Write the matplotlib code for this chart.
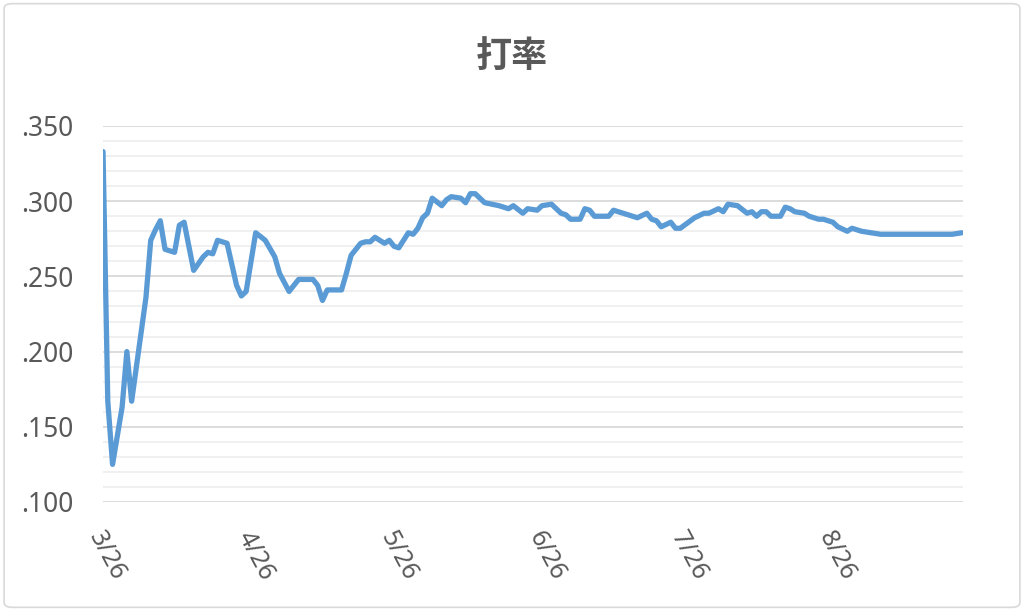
"""Batting average over the season (打率) - line chart."""

import matplotlib
matplotlib.use('Agg')
import matplotlib.pyplot as plt
import matplotlib.transforms as mtransforms
from matplotlib.patches import FancyBboxPatch
from matplotlib.ticker import MultipleLocator, FuncFormatter
import pandas as pd

# Data: day offset from 3/26 and batting average
season_start = '2021-03-26'
day_offsets = [0, 1, 2, 4, 5, 6, 9, 10, 11, 12, 13, 15, 16, 17, 19, 21, 22, 23,
               24, 26, 28, 29, 30, 32, 34, 36, 37, 39, 41, 44, 45, 46, 47, 50,
               51, 52, 54, 55, 56, 57, 59, 60, 61, 62, 64, 65, 66, 67, 68, 69,
               71, 72, 73, 75, 76, 77, 78, 80, 83, 85, 86, 88, 89, 91, 92, 94,
               96, 97, 98, 100, 101, 102, 103, 106, 107, 109, 112, 114, 115,
               116, 117, 119, 120, 121, 124, 126, 127, 129, 130, 131, 133, 135,
               136, 137, 138, 139, 140, 142, 143, 144, 145, 147, 148, 150, 151,
               153, 154, 156, 157, 159, 163, 178, 180]
batting_avg = [.333, .167, .125, .163, .200, .167, .236, .274, .281, .287, .268,
               .266, .284, .286, .254, .263, .266, .265, .274, .272, .244, .237,
               .240, .279, .274, .263, .252, .240, .248, .248, .244, .234, .241,
               .241, .252, .264, .272, .273, .273, .276, .272, .274, .270, .269,
               .279, .278, .282, .289, .292, .302, .297, .301, .303, .302, .299,
               .305, .305, .299, .297, .295, .297, .292, .295, .294, .297, .298,
               .292, .291, .288, .288, .295, .294, .290, .290, .294, .292, .289,
               .292, .288, .287, .283, .286, .282, .282, .289, .292, .292, .295,
               .293, .298, .297, .292, .293, .290, .293, .293, .290, .290, .296,
               .295, .293, .292, .290, .288, .288, .286, .283, .280, .282, .280,
               .278, .278, .279]
tick_labels = ['3/26', '4/26', '5/26', '6/26', '7/26', '8/26']

dates = pd.Timestamp(season_start) + pd.to_timedelta(day_offsets, unit='D')
tick_dates = [pd.Timestamp('2021-%02d-26' % int(t.split('/')[0])) for t in tick_labels]

TEXT_COLOR = '#595959'
LINE_COLOR = '#5B9BD5'

fig = plt.figure(figsize=(10.24, 6.11), dpi=100)
ax = fig.add_axes([0.1006, 0.1784, 0.8398, 0.6154])

# Chart area border
fig.patches.append(FancyBboxPatch((0.004, 0.006), 0.992, 0.988,
                                  boxstyle='round,pad=0,rounding_size=0.008',
                                  transform=fig.transFigure, fill=False,
                                  edgecolor='#d9d9d9', linewidth=1.2))

ax.plot(dates, batting_avg, color=LINE_COLOR, linewidth=3.8,
        solid_joinstyle='round', solid_capstyle='round', zorder=3)

ax.set_ylim(0.100, 0.350)
ax.set_xlim(dates[0], dates[-1] + pd.Timedelta(hours=6))

ax.yaxis.set_major_locator(MultipleLocator(0.05))
ax.yaxis.set_minor_locator(MultipleLocator(0.01))
ax.yaxis.set_major_formatter(FuncFormatter(lambda v, p: ('%.3f' % v)[1:]))
ax.grid(which='major', axis='y', color='#d9d9d9', linewidth=1.3, zorder=1)
ax.grid(which='minor', axis='y', color='#efefef', linewidth=1.3, zorder=1)

ax.set_xticks(tick_dates)
ax.set_xticklabels(tick_labels)

for spine in ax.spines.values():
    spine.set_visible(False)
ax.tick_params(axis='both', which='both', length=0)
ax.tick_params(axis='y', pad=21, labelsize=19, labelcolor=TEXT_COLOR)
ax.tick_params(axis='x', pad=22, labelsize=18, labelcolor=TEXT_COLOR)

offset = mtransforms.ScaledTranslation(-8 / 100, 0, fig.dpi_scale_trans)
for lbl in ax.get_xticklabels():
    lbl.set_rotation(-62)
    lbl.set_rotation_mode('anchor')
    lbl.set_ha('left')
    lbl.set_va('center')
    lbl.set_transform(lbl.get_transform() + offset)
for lbl in ax.get_xticklabels() + ax.get_yticklabels():
    lbl.set_fontfamily(['Noto Sans', 'DejaVu Sans'])

fig.text(0.5, 0.907, '打率', ha='center', va='center', fontsize=26,
         color=TEXT_COLOR, family=['Noto Sans CJK JP', 'DejaVu Sans'],
         fontweight='bold')

fig.savefig('out.png', dpi=100)
plt.close(fig)
